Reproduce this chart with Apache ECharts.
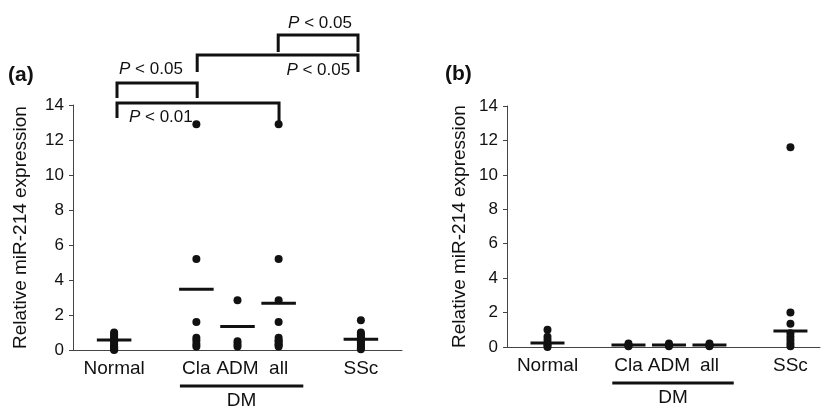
<!DOCTYPE html>
<html>
<head>
<meta charset="utf-8">
<script src="https://cdn.jsdelivr.net/npm/echarts@6/dist/echarts.min.js"></script>
<style>html,body{margin:0;padding:0;background:#fff;}#c{width:823px;height:407px;}</style>
</head>
<body>
<div id="c"></div>
<script>
// ---- data ----
const categories = ['Normal', 'Cla', 'ADM', 'all', 'SSc'];
const catX = [0, 2, 3, 4, 6];
const yTicks = [0, 2, 4, 6, 8, 10, 12, 14];

// panel (a)
const aNormal = [0, 0.05, 0.1, 0.15, 0.2, 0.3, 0.4, 0.5, 0.6, 0.7, 0.8, 0.9, 1.0];
const aCla = [12.9, 5.2, 1.6, 0.7, 0.55, 0.35, 0.2];
const aADM = [2.85, 0.5, 0.35, 0.2];
const aAll = [12.9, 5.2, 2.85, 1.6, 0.7, 0.55, 0.5, 0.35, 0.3, 0.2];
const aSSc = [1.7, 1.0, 0.9, 0.8, 0.7, 0.6, 0.5, 0.4, 0.3, 0.2, 0.1, 0.05];
const aMeans = [0.57, 3.47, 1.35, 2.67, 0.61];

// panel (b)
const bNormal = [1.0, 0.6, 0.4, 0.2, 0.1, 0.0];
const bCla = [0.2, 0.1, 0.05];
const bADM = [0.2, 0.1, 0.05];
const bAll = [0.2, 0.1, 0.05];
const bSSc = [11.6, 2.0, 1.35, 0.8, 0.6, 0.4, 0.2, 0.05];
const bMeans = [0.23, 0.12, 0.12, 0.12, 0.93];

const pLabels = ['P < 0.01', 'P < 0.05', 'P < 0.05', 'P < 0.05'];

// ---- build ----
function pts(groups) {
  const out = [];
  groups.forEach((g, i) => g.forEach(v => out.push([catX[i], v])));
  return out;
}
const aPts = pts([aNormal, aCla, aADM, aAll, aSSc]);
const bPts = pts([bNormal, bCla, bADM, bAll, bSSc]);
const aMeanData = aMeans.map((m, i) => [catX[i], m]);
const bMeanData = bMeans.map((m, i) => [catX[i], m]);

const FONT = '"Liberation Sans", Arial, sans-serif';
const INK = '#111';

function xAxisCfg(gi, max) {
  return {
    type: 'value', gridIndex: gi, min: -1, max: max, interval: 1,
    axisLine: { show: true, onZero: false, lineStyle: { color: '#444', width: 1 } },
    axisTick: { show: false }, splitLine: { show: false },
    axisLabel: {
      margin: 9, fontSize: 19, color: INK, fontFamily: FONT,
      showMinLabel: true, showMaxLabel: false,
      formatter: v => { const i = catX.indexOf(Math.round(v)); return (Math.abs(v - Math.round(v)) < 1e-6 && i >= 0) ? categories[i] : ''; }
    }
  };
}
function yAxisCfg(gi, gap) {
  return {
    type: 'value', gridIndex: gi, min: 0, max: 14, interval: 2,
    name: 'Relative miR-214 expression', nameLocation: 'middle', nameGap: gap,
    nameTextStyle: { fontSize: 19, color: INK, fontFamily: FONT },
    axisLine: { show: true, onZero: false, lineStyle: { color: '#444', width: 1 } },
    axisTick: { show: true, length: 4, inside: false, lineStyle: { color: '#444' } },
    splitLine: { show: false },
    axisLabel: { margin: 9, fontSize: 17, color: INK, fontFamily: FONT,
      formatter: v => yTicks.indexOf(v) >= 0 ? String(v) : '' }
  };
}
function meanSeries(gi, data) {
  return {
    type: 'custom', xAxisIndex: gi, yAxisIndex: gi, data: data, clip: false, z: 3,
    renderItem: (params, api) => {
      const x = api.value(0), y = api.value(1);
      const p1 = api.coord([x - 0.42, y]);
      const p2 = api.coord([x + 0.42, y]);
      return { type: 'line', shape: { x1: p1[0], y1: p1[1], x2: p2[0], y2: p2[1] },
        style: { stroke: INK, lineWidth: 3 } };
    }
  };
}

const chart = echarts.init(document.getElementById('c'), null, { renderer: 'canvas' });
chart.setOption({
  animation: false,
  backgroundColor: '#fff',
  grid: [
    { left: 73, top: 105, width: 329, height: 245 },
    { left: 507, top: 106, width: 313, height: 241 }
  ],
  xAxis: [xAxisCfg(0, 7), xAxisCfg(1, 6.73)],
  yAxis: [yAxisCfg(0, 43), yAxisCfg(1, 38)],
  series: [
    { type: 'scatter', xAxisIndex: 0, yAxisIndex: 0, data: aPts, symbolSize: 8, itemStyle: { color: INK, opacity: 1 }, z: 4 },
    { type: 'scatter', xAxisIndex: 1, yAxisIndex: 1, data: bPts, symbolSize: 8, itemStyle: { color: INK, opacity: 1 }, z: 4 },
    meanSeries(0, aMeanData),
    meanSeries(1, bMeanData)
  ]
});

// ---- annotations (significance brackets, DM grouping) ----
function px(gi, x, y) { return chart.convertToPixel({ gridIndex: gi }, [x, y]); }
const brackets = [
  { x1: 0.07, x2: 4.01, top: 14.11, b1: 13.26, b2: 12.97, lx: 0.36, ly: 13.31, align: 'left' },
  { x1: 0.07, x2: 2.02, top: 15.26, b1: 14.4, b2: 14.4, lx: 0.12, ly: 16.06, align: 'left' },
  { x1: 2.02, x2: 5.93, top: 16.86, b1: 15.89, b2: 15.89, lx: 5.74, ly: 16.0, align: 'right' },
  { x1: 3.99, x2: 5.93, top: 18.0, b1: 17.03, b2: 17.03, lx: 4.23, ly: 18.69, align: 'left' }
];
const graphics = [];
brackets.forEach((b, i) => {
  const pA = px(0, b.x1, b.b1), pB = px(0, b.x1, b.top), pC = px(0, b.x2, b.top), pD = px(0, b.x2, b.b2);
  graphics.push({ type: 'polyline', shape: { points: [pA, pB, pC, pD] },
    style: { stroke: INK, lineWidth: 3, fill: null, lineJoin: 'miter' } });
  const t = px(0, b.lx, b.ly);
  graphics.push({ type: 'text', x: t[0], y: t[1],
    style: { text: '{i|P}' + pLabels[i].slice(1), align: b.align, verticalAlign: 'middle',
      fontSize: 17, fontFamily: FONT, fill: INK,
      rich: { i: { fontStyle: 'italic', fontSize: 17, fontFamily: FONT, fill: INK } } } });
});
[0, 1].forEach(gi => {
  const l = px(gi, 1.6, 0), r = px(gi, 4.6, 0);
  const yLine = l[1] + 36;
  graphics.push({ type: 'line', shape: { x1: l[0], y1: yLine, x2: r[0], y2: yLine },
    style: { stroke: INK, lineWidth: 3 } });
  graphics.push({ type: 'text', x: (l[0] + r[0]) / 2, y: yLine + 15,
    style: { text: 'DM', align: 'center', verticalAlign: 'middle', fontSize: 19, fontFamily: FONT, fill: INK } });
});
graphics.push({ type: 'text', x: 8, y: 75, style: { text: '(a)', verticalAlign: 'middle', fontSize: 21, fontWeight: 'bold', fontFamily: FONT, fill: INK } });
graphics.push({ type: 'text', x: 445, y: 74, style: { text: '(b)', verticalAlign: 'middle', fontSize: 21, fontWeight: 'bold', fontFamily: FONT, fill: INK } });
chart.setOption({ graphic: { elements: graphics } });
</script>
</body>
</html>
